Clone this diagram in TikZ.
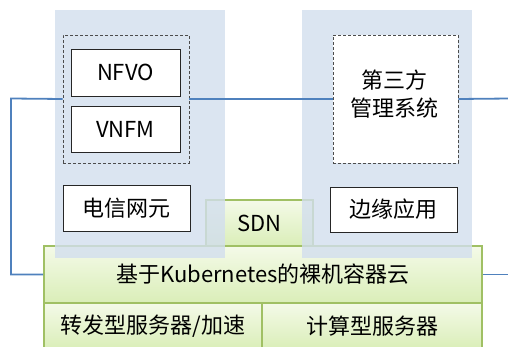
\documentclass[tikz,border=0pt]{standalone}
\usepackage{fontspec}
\setmainfont{Noto Sans CJK SC}
\begin{document}
\begin{tikzpicture}[x=1pt,y=-1pt,
  every node/.style={inner sep=0pt,font=\fontsize{22}{28}\selectfont},
  panel/.style={draw=none,fill=panelc,fill opacity=0.8},
  wbox/.style={draw=black!85,line width=0.9pt,fill=white},
  dbox/.style={draw=black!70,line width=0.9pt,dash pattern=on 3pt off 2pt},
  gbox/.style={draw=gline,line width=1.8pt,top color=gtop,bottom color=gbot},
  conn/.style={draw=lblue,line width=1.8pt}]
\definecolor{panelc}{RGB}{210,222,238}
\definecolor{gline}{RGB}{160,192,100}
\definecolor{gtop}{RGB}{244,250,232}
\definecolor{gbot}{RGB}{218,238,184}
\definecolor{lblue}{RGB}{79,129,189}
\useasboundingbox (0,0) rectangle (508,347);
\begin{scope}
\clip (0,0) rectangle (508,347);
% green layers
\node[gbox,minimum width=107pt,minimum height=46pt] (sdn) at (259.5,223) {SDN};
\node[gbox,minimum width=438pt,minimum height=57pt] (k8s) at (263,274.5) {基于Kubernetes的裸机容器云};
\node[gbox,minimum width=218pt,minimum height=46pt] (fwd) at (153,326) {转发型服务器/加速};
\node[gbox,minimum width=220pt,minimum height=46pt] (cmp) at (372,326) {计算型服务器};
% panels
\node[panel,minimum width=170pt,minimum height=248pt] (pl) at (140,134) {};
\node[panel,minimum width=170pt,minimum height=248pt] (pr) at (387,134) {};
% connectors
\coordinate (lc) at (11,98.5);
\coordinate (rc) at (510,98.5);
\coordinate (rb) at (510,274.5);
\node[dbox,minimum width=126pt,minimum height=128pt] (dl) at (126,99) {};
\node[dbox,fill=white,minimum width=125pt,minimum height=128pt] (dr) at (395.5,99) {};
\draw[conn] (dl.west) -- (lc) |- (k8s.west);
\draw[conn] (dl.east) -- (dr.west);
\draw[conn] (dr.east) -- (rc);
\draw[conn] (k8s.east) -- (rb);
% boxes
\node[wbox,minimum width=109pt,minimum height=47pt] (nfvo) at (125.5,72.5) {NFVO};
\node[wbox,minimum width=109pt,minimum height=46pt] (vnfm) at (125.5,129) {VNFM};
\node[align=center] (tpm) at (394,94) {第三方\\管理系统};
\node[wbox,minimum width=127pt,minimum height=46pt] (nf) at (126.5,208) {电信网元};
\node[wbox,minimum width=127pt,minimum height=45pt] (edge) at (393.5,209.5) {边缘应用};
\end{scope}
\end{tikzpicture}
\end{document}
